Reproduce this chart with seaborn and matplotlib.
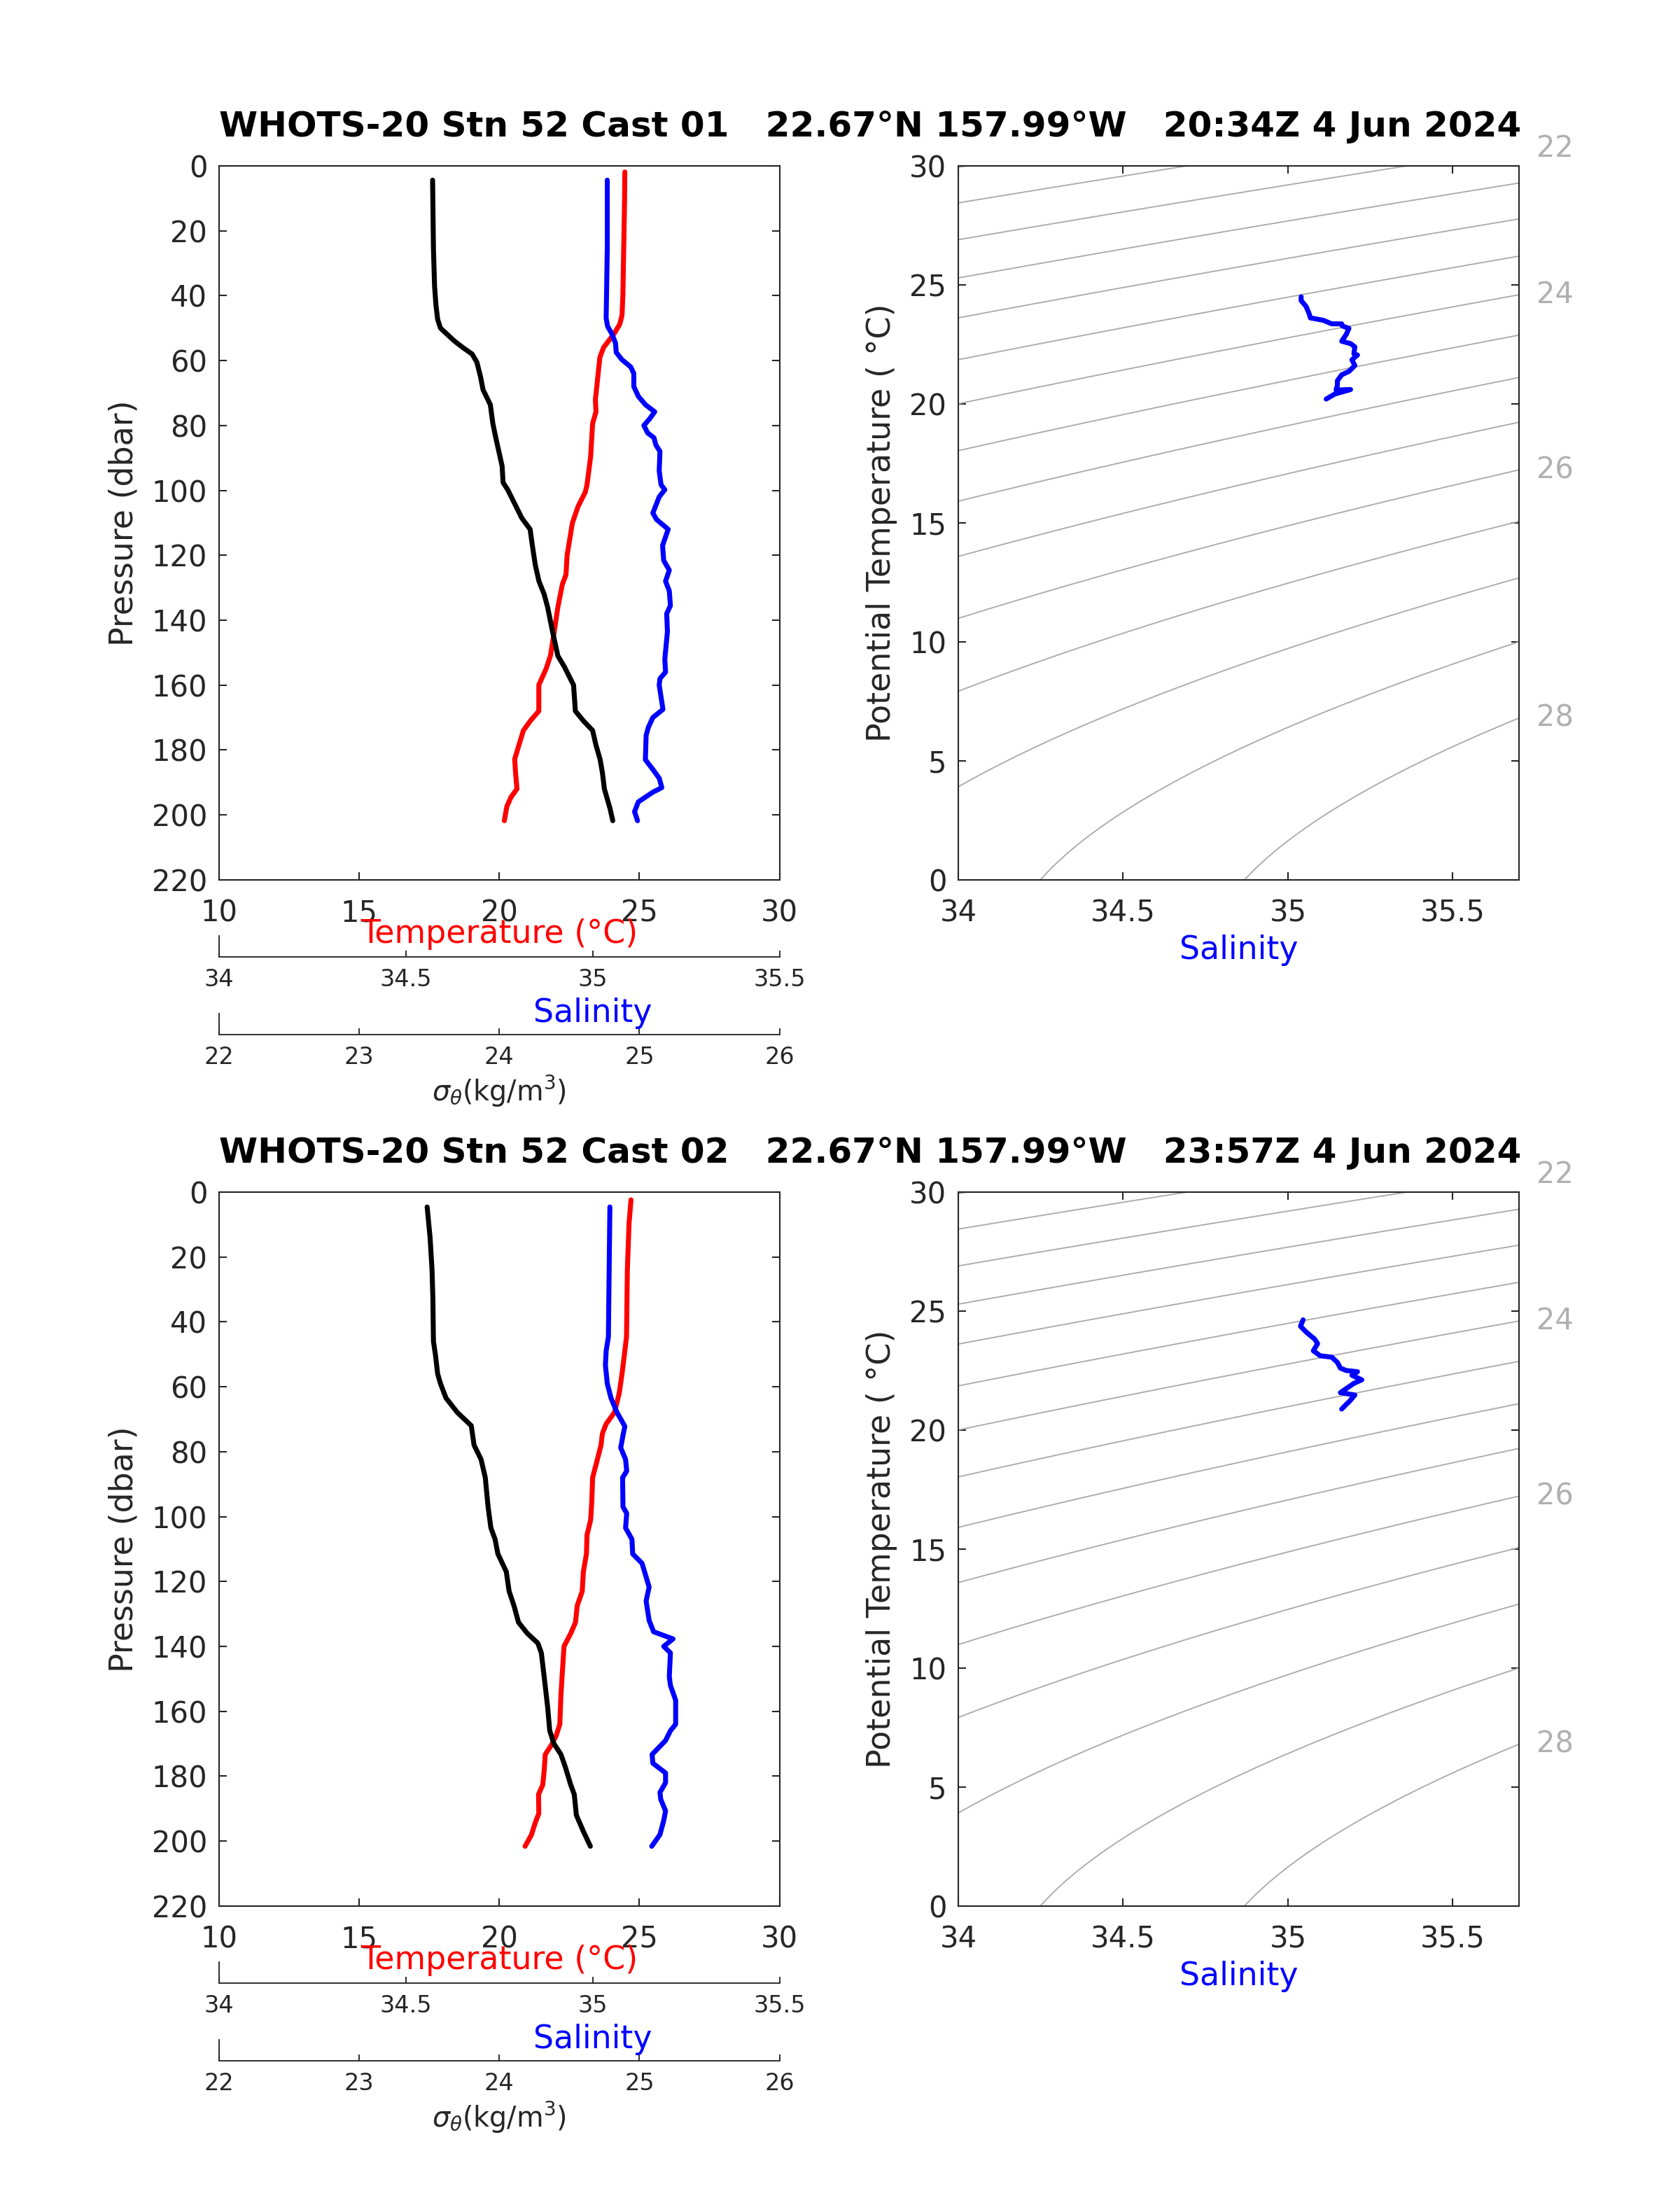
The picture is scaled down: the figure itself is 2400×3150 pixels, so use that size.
import numpy as np
import matplotlib
matplotlib.use("Agg")
import matplotlib.pyplot as plt
import seaborn as sns

# ---- Cast 01 profiles ----
p_temp1 = [1.9, 10.9, 25.5, 40, 46, 48.8, 51.7, 56, 59, 66.3, 72, 75.8, 79.4, 89.6, 98.3, 100.5,
           105, 110, 120, 126, 129, 136, 143.5, 150.8, 155, 160, 168, 171, 174, 178.5, 182.8,
           187, 192, 194.5, 197.4, 201.8]
temp1 = [24.48, 24.47, 24.44, 24.41, 24.38, 24.3, 24.1, 23.72, 23.59, 23.5, 23.43, 23.45, 23.33,
         23.26, 23.13, 23.07, 22.81, 22.61, 22.42, 22.38, 22.25, 22.09, 21.96, 21.83, 21.67,
         21.41, 21.41, 21.11, 20.86, 20.7, 20.55, 20.58, 20.63, 20.42, 20.27, 20.18]

p_sal1 = [4.4, 25, 40, 47, 49.5, 51.7, 54.6, 57.5, 59.7, 62, 64, 68, 71, 73.6, 75.8, 78, 80, 82.3,
          83.8, 86, 88, 94, 98.3, 99.8, 102, 107, 109, 112, 117, 121.6, 124.6, 128, 131, 135.5,
          138, 143.5, 152, 156, 158, 160, 167.5, 170, 173, 175.5, 183, 186, 188.7, 191.6, 193,
          196, 199, 201.8]
sal1 = [35.039, 35.039, 35.037, 35.036, 35.040, 35.051, 35.061, 35.063, 35.078, 35.102, 35.110,
        35.110, 35.122, 35.141, 35.166, 35.152, 35.137, 35.147, 35.164, 35.169, 35.180, 35.178,
        35.183, 35.193, 35.178, 35.161, 35.171, 35.202, 35.187, 35.190, 35.205, 35.195, 35.205,
        35.208, 35.198, 35.200, 35.193, 35.195, 35.180, 35.178, 35.188, 35.161, 35.149, 35.143,
        35.141, 35.161, 35.178, 35.185, 35.161, 35.122, 35.112, 35.120]

p_sig1 = [4.4, 25.5, 37, 43, 47.3, 50, 54, 56, 58, 60.5, 65, 69, 73.6, 79.4, 83.8, 92.5, 97.6, 99.8,
          105, 108.5, 112, 117, 123, 128, 132, 136, 143.5, 151, 154.4, 160, 168, 171, 174, 178.5,
          183, 187, 192, 198, 201.8]
sig1 = [23.524, 23.530, 23.538, 23.548, 23.560, 23.580, 23.680, 23.740, 23.806, 23.840, 23.866,
        23.884, 23.936, 23.954, 23.975, 24.020, 24.027, 24.060, 24.120, 24.160, 24.220, 24.236,
        24.257, 24.283, 24.320, 24.345, 24.380, 24.418, 24.465, 24.530, 24.543, 24.600, 24.666,
        24.690, 24.720, 24.736, 24.750, 24.790, 24.810]

ts_sal1 = [35.040, 35.040, 35.055, 35.064, 35.068, 35.107, 35.133, 35.163, 35.165, 35.185, 35.177,
           35.163, 35.190, 35.203, 35.200, 35.211, 35.194, 35.203, 35.185, 35.163, 35.150, 35.150,
           35.146, 35.190, 35.142, 35.116]
ts_theta1 = [24.50, 24.34, 24.09, 23.80, 23.61, 23.51, 23.36, 23.36, 23.27, 23.17, 22.92, 22.63,
             22.53, 22.39, 22.10, 22.05, 21.85, 21.61, 21.36, 21.22, 20.97, 20.78, 20.58, 20.60,
             20.41, 20.20]

# ---- Cast 02 profiles ----
p_temp2 = [2.4, 9.7, 24, 44.6, 49, 56, 62, 67.9, 71.5, 74.4, 78, 82.4, 88, 95.5, 101, 105.7, 111.5,
           117, 123, 127.5, 132.6, 136, 140, 148, 155, 164, 167.5, 170.4, 173.3, 178.4, 182.7,
           185.6, 191.5, 194.4, 198, 201.6]
temp2 = [24.70, 24.63, 24.57, 24.54, 24.48, 24.38, 24.28, 24.11, 23.81, 23.68, 23.63, 23.50, 23.33,
         23.30, 23.26, 23.13, 23.11, 23.00, 22.96, 22.78, 22.72, 22.55, 22.31, 22.25, 22.20, 22.16,
         22.03, 21.86, 21.64, 21.60, 21.55, 21.40, 21.41, 21.28, 21.15, 20.92]

p_sal2 = [4.6, 24, 44.6, 49, 53.3, 59, 63.5, 67.9, 72.2, 75, 78.8, 82.4, 86, 88, 97, 99, 103.5, 107,
          111.5, 114.4, 121.7, 126, 132, 135.5, 137.7, 140, 142, 149.3, 152, 156.6, 164, 166, 169,
          173.3, 176, 179, 182, 185, 187.1, 190.7, 193.7, 198, 201.6]
sal2 = [35.046, 35.044, 35.042, 35.036, 35.034, 35.039, 35.049, 35.065, 35.086, 35.081, 35.075,
        35.088, 35.091, 35.080, 35.081, 35.091, 35.088, 35.105, 35.107, 35.132, 35.151, 35.143,
        35.151, 35.163, 35.215, 35.190, 35.208, 35.205, 35.208, 35.222, 35.222, 35.208, 35.195,
        35.159, 35.161, 35.195, 35.195, 35.180, 35.182, 35.195, 35.190, 35.180, 35.158]

p_sig2 = [4.6, 14, 24, 33, 46, 50.4, 56, 59, 63.5, 67.9, 72, 78, 82.4, 88, 97, 103.5, 107, 111.5,
          117, 123, 127.5, 132.6, 136, 139, 142, 149.3, 158.7, 166, 170, 173.3, 177, 182.7, 185.6,
          192, 197, 201.6]
sig2 = [23.485, 23.506, 23.520, 23.526, 23.530, 23.545, 23.560, 23.580, 23.620, 23.700, 23.800,
        23.820, 23.870, 23.900, 23.920, 23.940, 23.970, 23.990, 24.050, 24.070, 24.105, 24.137,
        24.200, 24.275, 24.300, 24.320, 24.345, 24.360, 24.390, 24.440, 24.470, 24.510, 24.535,
        24.550, 24.600, 24.650]

ts_sal2 = [35.046, 35.038, 35.055, 35.081, 35.090, 35.077, 35.098, 35.133, 35.150, 35.159, 35.177,
           35.211, 35.194, 35.224, 35.200, 35.159, 35.203, 35.185, 35.177, 35.163]
ts_theta2 = [24.63, 24.36, 24.12, 23.82, 23.63, 23.33, 23.12, 23.06, 22.84, 22.60, 22.50, 22.45,
             22.30, 22.11, 21.96, 21.57, 21.47, 21.18, 21.08, 20.88]

titles = ["WHOTS-20 Stn 52 Cast 01   22.67\u00b0N 157.99\u00b0W   20:34Z 4 Jun 2024",
          "WHOTS-20 Stn 52 Cast 02   22.67\u00b0N 157.99\u00b0W   23:57Z 4 Jun 2024"]

sigma_levels = np.arange(18, 28.01, 0.5)
sigma_labels = [22, 24, 26, 28]


def sigma_theta(s, t):
    # UNESCO EOS-80 density at p = 0, minus 1000
    rho_w = (999.842594 + 6.793952e-2 * t - 9.095290e-3 * t**2 + 1.001685e-4 * t**3
             - 1.120083e-6 * t**4 + 6.536332e-9 * t**5)
    a = 0.824493 - 4.0899e-3 * t + 7.6438e-5 * t**2 - 8.2467e-7 * t**3 + 5.3875e-9 * t**4
    b = -5.72466e-3 + 1.0227e-4 * t - 1.6546e-6 * t**2
    return rho_w + a * s + b * s**1.5 + 4.8314e-4 * s**2 - 1000.0


sns.set_style("ticks")
plt.rcParams["font.family"] = ["DejaVu Sans"]
plt.rcParams["axes.linewidth"] = 0.5
plt.rcParams["axes.edgecolor"] = "#262626"

DARK = "#262626"
GREY_LINE = "#ababab"
GREY_TXT = "#b0b0b0"
LW = 1.7


def style_box(ax):
    for sp in ax.spines.values():
        sp.set_visible(True)
        sp.set_linewidth(0.5)
        sp.set_color(DARK)
    ax.tick_params(direction="in", length=2.6, width=0.5, colors=DARK, labelsize=10,
                   top=True, right=True, labeltop=False, labelright=False)
    ax.tick_params(axis="x", pad=6.5)
    ax.tick_params(axis="y", pad=4)
    ax.set_xlabel("")
    ax.set_ylabel("")


def small_axis(fig, rect, lim, ticks):
    a = fig.add_axes(rect)
    a.patch.set_alpha(0)
    a.set_xlim(*lim)
    a.set_xticks(ticks)
    a.set_xticklabels([f"{v:g}" for v in ticks])
    a.set_yticks([])
    a.spines["top"].set_visible(False)
    a.spines["right"].set_visible(False)
    for k in ("left", "bottom"):
        a.spines[k].set_linewidth(0.45)
        a.spines[k].set_color(DARK)
    a.tick_params(axis="x", direction="in", length=2.2, width=0.45, colors=DARK,
                  labelsize=8, pad=3.8)
    return a


fig = plt.figure(figsize=(8, 10.5), dpi=300)

L1, L2, W, H = 0.1304, 0.5704, 0.3336, 0.3238
rows = [
    dict(bot=0.6010, title=titles[0], pt=p_temp1, t=temp1, ps=p_sal1, s=sal1,
         pg=p_sig1, g=sig1, tss=ts_sal1, tst=ts_theta1),
    dict(bot=0.1356, title=titles[1], pt=p_temp2, t=temp2, ps=p_sal2, s=sal2,
         pg=p_sig2, g=sig2, tss=ts_sal2, tst=ts_theta2),
]

sg, tg = np.meshgrid(np.linspace(33.8, 35.9, 400), np.linspace(-2, 33, 400))
sig_grid = sigma_theta(sg, tg)
t_fine = np.linspace(-2, 35, 3701)
sig_edge = sigma_theta(35.7, t_fine)

for r in rows:
    b = r["bot"]
    dy = 0.6010 - b

    # ---- profile panel ----
    ax = fig.add_axes([L1, b, W, H])
    sns.lineplot(x=r["t"], y=r["pt"], sort=False, estimator=None, orient="y",
                 color="red", lw=LW, ax=ax)
    ax.set_xlim(10, 30)
    ax.set_ylim(220, 0)
    ax.set_xticks(np.arange(10, 31, 5))
    ax.set_yticks(np.arange(0, 221, 20))
    style_box(ax)

    ax_s = ax.twiny()
    sns.lineplot(x=r["s"], y=r["ps"], sort=False, estimator=None, orient="y",
                 color="blue", lw=LW, ax=ax_s)
    ax_s.set_xlim(34, 35.5)
    ax_s.axis("off")

    ax_g = ax.twiny()
    sns.lineplot(x=r["g"], y=r["pg"], sort=False, estimator=None, orient="y",
                 color="black", lw=LW, ax=ax_g)
    ax_g.set_xlim(22, 26)
    ax_g.axis("off")

    fig.text(0.0736, b + H / 2, "Pressure (dbar)", rotation=90, ha="center", va="center",
             fontsize=11, color=DARK)
    fig.text(L1 + W / 2, 0.5762 - dy, "Temperature (\u00b0C)", ha="center", va="center",
             fontsize=11, color="red")

    small_axis(fig, [L1, 0.5660 - dy, W, 0.0095], (34, 35.5), [34, 34.5, 35, 35.5])
    fig.text(L1 + W * 2 / 3, 0.5405 - dy, "Salinity", ha="center", va="center",
             fontsize=11, color="blue")
    small_axis(fig, [L1, 0.5308 - dy, W, 0.0095], (22, 26), [22, 23, 24, 25, 26])
    fig.text(L1 + W / 2, 0.5050 - dy, r"$\sigma_{\theta}$(kg/m$^{3}$)", ha="center",
             va="center", fontsize=9.5, color=DARK)

    # ---- T-S panel ----
    ax2 = fig.add_axes([L2, b, W, H])
    ax2.contour(sg, tg, sig_grid, levels=sigma_levels, colors=GREY_LINE, linewidths=0.45)
    sns.lineplot(x=r["tss"], y=r["tst"], sort=False, estimator=None, color="blue",
                 lw=LW, ax=ax2)
    ax2.set_xlim(34, 35.7)
    ax2.set_ylim(0, 30)
    ax2.set_xticks([34, 34.5, 35, 35.5])
    ax2.set_xticklabels(["34", "34.5", "35", "35.5"])
    ax2.set_yticks(np.arange(0, 31, 5))
    style_box(ax2)
    for lev in sigma_labels:
        t_at = np.interp(lev, sig_edge[::-1], t_fine[::-1])
        ax2.text(35.81, t_at, f"{lev}", ha="center", va="center", fontsize=10,
                 color=GREY_TXT, clip_on=False)
    fig.text(L2 + W / 2, 0.5690 - dy, "Salinity", ha="center", va="center",
             fontsize=11, color="blue")
    fig.text(0.5246, b + H / 2, "Potential Temperature ( \u00b0C)", rotation=90,
             ha="center", va="center", fontsize=11, color=DARK)

    fig.text(L1, 0.9426 - dy, r["title"], ha="left", va="center", fontsize=12,
             fontweight="bold", color="black")

fig.savefig("out.png", dpi=300)
